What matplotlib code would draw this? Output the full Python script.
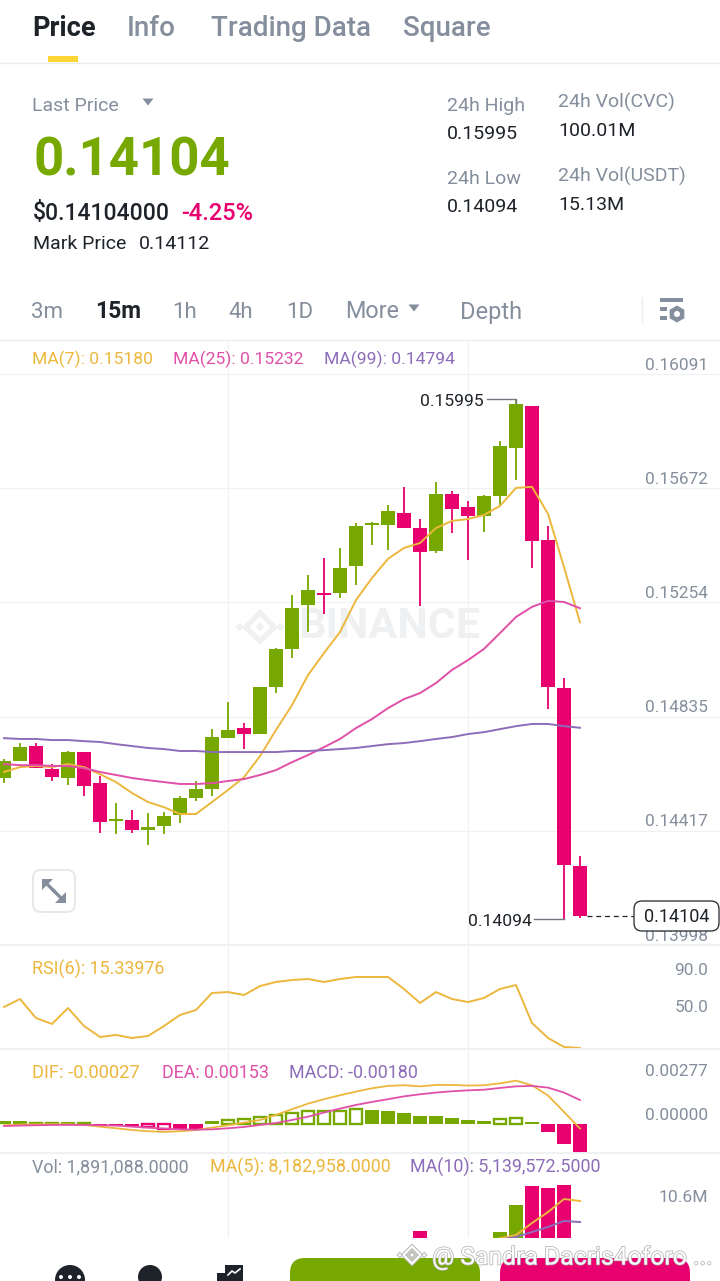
# Imports
import matplotlib
matplotlib.use("Agg")
import matplotlib.pyplot as plt
import matplotlib.patheffects as pe
from matplotlib.patches import Circle, FancyBboxPatch, Polygon, Rectangle, RegularPolygon
from matplotlib.transforms import ScaledTranslation
import numpy as np

W, H = 720, 1281
plt.rcParams["font.family"] = ["Roboto", "DejaVu Sans"]

GREEN = "#76a800"
RED = "#e8006f"
YELLOW = "#ecb73c"
PINK = "#e04fa8"
PURPLE = "#8d6cb9"
GRAY = "#848e9c"
DARK = "#1e2329"
GRID = "#f0f1f3"

# Candles
opens = [0.14610, 0.14672, 0.14727, 0.14643, 0.14610, 0.14705, 0.14591, 0.14452, 0.14456, 0.14419,
         0.14434, 0.14474, 0.14536, 0.14569, 0.14756, 0.14793, 0.14771, 0.14943, 0.15083, 0.15244,
         0.15288, 0.15288, 0.15387, 0.15537, 0.15537, 0.15581, 0.15526, 0.15442, 0.15651, 0.15603,
         0.15570, 0.15644, 0.15820, 0.15974, 0.15482, 0.14940, 0.14287]
highs = [0.14679, 0.14738, 0.14738, 0.14661, 0.14709, 0.14705, 0.14617, 0.14518, 0.14492, 0.14481,
         0.14485, 0.14544, 0.14599, 0.14789, 0.14888, 0.14811, 0.14943, 0.15086, 0.15281, 0.15354,
         0.15416, 0.15453, 0.15545, 0.15548, 0.15611, 0.15677, 0.15559, 0.15695, 0.15662, 0.15625,
         0.15647, 0.15845, 0.15995, 0.15974, 0.15534, 0.14976, 0.14324]
lows = [0.14591, 0.14672, 0.14646, 0.14599, 0.14584, 0.14544, 0.14408, 0.14404, 0.14408, 0.14364,
        0.14404, 0.14445, 0.14525, 0.14544, 0.14756, 0.14716, 0.14771, 0.14921, 0.15050, 0.15145,
        0.15211, 0.15270, 0.15317, 0.15464, 0.15446, 0.15526, 0.15240, 0.15435, 0.15508, 0.15409,
        0.15512, 0.15611, 0.15702, 0.15380, 0.14863, 0.14094, 0.14096]
closes = [0.14672, 0.14723, 0.14646, 0.14613, 0.14705, 0.14580, 0.14448, 0.14459, 0.14419, 0.14430,
          0.14470, 0.14536, 0.14569, 0.14760, 0.14786, 0.14771, 0.14943, 0.15083, 0.15233, 0.15299,
          0.15281, 0.15380, 0.15534, 0.15545, 0.15589, 0.15526, 0.15438, 0.15651, 0.15596, 0.15570,
          0.15644, 0.15827, 0.15981, 0.15479, 0.14943, 0.14291, 0.14104]

ma7 = [0.14632, 0.14650, 0.14654, 0.14650, 0.14661, 0.14650, 0.14624, 0.14595, 0.14555, 0.14522,
       0.14503, 0.14478, 0.14478, 0.14522, 0.14566, 0.14613, 0.14690, 0.14786, 0.14877, 0.14987,
       0.15068, 0.15145, 0.15262, 0.15343, 0.15413, 0.15453, 0.15471, 0.15526, 0.15552, 0.15559,
       0.15574, 0.15607, 0.15673, 0.15677, 0.15578, 0.15383, 0.15180]
ma25 = [0.14661, 0.14657, 0.14657, 0.14654, 0.14654, 0.14646, 0.14632, 0.14621, 0.14610, 0.14602,
        0.14595, 0.14588, 0.14588, 0.14591, 0.14599, 0.14606, 0.14621, 0.14639, 0.14668, 0.14694,
        0.14723, 0.14753, 0.14793, 0.14826, 0.14866, 0.14899, 0.14921, 0.14958, 0.15006, 0.15042,
        0.15083, 0.15141, 0.15200, 0.15237, 0.15259, 0.15255, 0.15232]
ma99 = [0.14756, 0.14753, 0.14753, 0.14749, 0.14749, 0.14745, 0.14742, 0.14734, 0.14727, 0.14720,
        0.14716, 0.14709, 0.14709, 0.14705, 0.14705, 0.14705, 0.14705, 0.14705, 0.14709, 0.14709,
        0.14712, 0.14716, 0.14720, 0.14727, 0.14734, 0.14738, 0.14745, 0.14753, 0.14760, 0.14771,
        0.14778, 0.14789, 0.14800, 0.14808, 0.14808, 0.14800, 0.14794]

price_ticks = [0.16091, 0.15672, 0.15254, 0.14835, 0.14417, 0.13998]

# RSI
rsi6 = [59.7, 68.4, 47.8, 41.4, 58.6, 39.2, 27.3, 29.5, 26.2, 28.4,
        39.2, 51.1, 56.5, 74.9, 75.9, 72.7, 82.4, 86.8, 88.9, 90.0,
        86.8, 90.0, 92.2, 92.2, 92.2, 79.2, 64.1, 75.9, 68.4, 65.1,
        69.5, 79.2, 83.5, 42.4, 26.2, 16.5, 15.34]

# MACD
dif = [-0.00006, -0.00002, 0.00000, 0.00000, 0.00000, -0.00004, -0.00015, -0.00025, -0.00036, -0.00044,
       -0.00048, -0.00044, -0.00036, -0.00021, -0.00006, 0.00011, 0.00027, 0.00059, 0.00095, 0.00130,
       0.00158, 0.00183, 0.00206, 0.00227, 0.00242, 0.00246, 0.00239, 0.00248, 0.00248, 0.00244,
       0.00246, 0.00258, 0.00275, 0.00246, 0.00181, 0.00078, -0.00027]
dea = [-0.00011, -0.00008, -0.00006, -0.00004, -0.00004, -0.00004, -0.00006, -0.00008, -0.00015, -0.00021,
       -0.00027, -0.00032, -0.00034, -0.00032, -0.00025, -0.00017, -0.00004, 0.00008, 0.00027, 0.00048,
       0.00074, 0.00099, 0.00122, 0.00141, 0.00158, 0.00176, 0.00189, 0.00200, 0.00208, 0.00214,
       0.00218, 0.00229, 0.00239, 0.00242, 0.00231, 0.00200, 0.00153]
macd_hist = [0.00019, 0.00019, 0.00008, 0.00008, 0.00015, 0.00008, -0.00002, -0.00006, -0.00010, -0.00017,
             -0.00027, -0.00031, -0.00031, 0.00019, 0.00027, 0.00034, 0.00046, 0.00059, 0.00074, 0.00086,
             0.00082, 0.00086, 0.00094, 0.00090, 0.00086, 0.00074, 0.00055, 0.00050, 0.00042, 0.00029,
             0.00023, 0.00034, 0.00042, 0.00015, -0.00050, -0.00124, -0.00180]
hollow_hist = [2, 3, 5, 9, 10, 14, 15, 16, 17, 18, 19, 20, 21, 22, 31, 32]

# Volume, in millions (the bars under the bottom bar are estimates)
volume = [1.2, 0.9, 1.3, 0.8, 1.1, 1.6, 2.2, 1.0, 0.9, 1.1,
          0.8, 1.2, 0.9, 2.6, 1.3, 0.8, 2.7, 2.1, 2.4, 1.5,
          1.7, 1.4, 2.2, 0.9, 1.0, 1.6, 3.84, 2.6, 1.1, 1.4,
          1.2, 3.70, 7.60, 10.35, 10.06, 10.50, 1.89]
vol_ma5 = [2.80, 3.26, 5.00, 6.59, 8.47, 8.18]
vol_ma10 = [2.60, 2.97, 3.70, 4.42, 5.29, 5.14]

idx = np.arange(len(opens))
idx_vol_ma = idx[-len(vol_ma5):]


def panel(top, bottom, ylim, zorder=1):
    # axes spanning a pixel band of the screenshot, x is the candle index
    ax = fig.add_axes([0, 1 - bottom / H, 1, (bottom - top) / H], zorder=zorder)
    ax.patch.set_visible(False)
    ax.set_xlim(-0.25, 44.75)
    ax.set_ylim(*ylim)
    for s in ax.spines.values():
        s.set_visible(False)
    ax.set_xticks([14, 29])
    ax.tick_params(length=0, labelbottom=False, labelleft=False, labelright=True,
                   labelsize=12.4, labelcolor=GRAY, pad=-8.6)
    ax.grid(True, axis="x", color=GRID, linewidth=0.9)
    ax.set_axisbelow(True)
    return ax


def right_ticks(ax, ticks, labels):
    ax.yaxis.tick_right()
    ax.tick_params(length=0, labelleft=False, labelright=True)
    ax.set_yticks(ticks)
    ax.set_yticklabels(labels)
    # labels sit just above their level, nudged up a pixel
    nudge = ScaledTranslation(0, 1.2 / 100, fig.dpi_scale_trans)
    for t in ax.get_yticklabels():
        t.set_ha("right")
        t.set_va("bottom")
        t.set_transform(t.get_transform() + nudge)


def label(x, y, s, color=DARK, size=12.85, weight="normal", ha="left", ax=None, **kw):
    # roboto sits about 2px high with va=center
    (ax or ui).text(x, y + 2, s, color=color, fontsize=size, fontweight=weight, ha=ha, va="center", **kw)


def triangle(x, y, w=5.5, h=7, color=GRAY):
    ui.add_patch(Polygon([(x - w, y - h / 2), (x + w, y - h / 2), (x, y + h / 2)], closed=True, color=color, lw=0))


def diamond(ax, cx, cy, r, color, zorder=1, edge="none"):
    ax.add_patch(Polygon([(cx - r, cy), (cx, cy - r), (cx + r, cy), (cx, cy + r)], closed=True,
                         facecolor=color, edgecolor=edge, lw=0.7, zorder=zorder))


def binance_logo(ax, cx, cy, r, color, hole="white", zorder=1, edge="none"):
    diamond(ax, cx, cy, r * 0.72, color, zorder, edge)
    diamond(ax, cx, cy, r * 0.42, hole, zorder, edge)
    diamond(ax, cx, cy, r * 0.18, color, zorder, edge)
    diamond(ax, cx - r * 0.82, cy, r * 0.17, color, zorder, edge)
    diamond(ax, cx + r * 0.82, cy, r * 0.17, color, zorder, edge)


fig = plt.figure(figsize=(W / 100, H / 100), dpi=100, facecolor="white")

# background layer for the watermark
bg = fig.add_axes([0, 0, 1, 1], zorder=0)
bg.set_xlim(0, W)
bg.set_ylim(H, 0)
bg.axis("off")
binance_logo(bg, 260, 627, 25, "#eff0f2")
bg.text(298, 627, "BINANCE", color="#eff0f2", fontsize=31, fontweight="bold", ha="left", va="center")

# 1. Price panel, top edge y=340, bottom edge y=945
main = panel(340, 945, (0.13998, 0.16215))
main.grid(True, axis="y", color=GRID, linewidth=0.9)
right_ticks(main, price_ticks, [f"{p:.5f}" for p in price_ticks])
colors = [GREEN if c >= o else RED for o, c in zip(opens, closes)]
main.vlines(idx, lows, highs, colors=colors, linewidth=1.3, zorder=2)
main.bar(idx, np.abs(np.subtract(closes, opens)), bottom=np.minimum(opens, closes),
         width=0.875, color=colors, zorder=3)
main.plot(idx, ma7, color=YELLOW, linewidth=1.4, zorder=4)
main.plot(idx, ma25, color=PINK, linewidth=1.4, zorder=4)
main.plot(idx, ma99, color=PURPLE, linewidth=1.4, zorder=4)

# 2. RSI panel
rsi = panel(945, 1049, (14.3, 126.8))
right_ticks(rsi, [50, 90], ["50.0", "90.0"])
rsi.plot(idx, rsi6, color=YELLOW, linewidth=1.4)

# 3. MACD panel
macd = panel(1049, 1153, (-0.00181, 0.004745))
right_ticks(macd, [0, 0.00277], ["0.00000", "0.00277"])
hist_colors = [GREEN if v >= 0 else RED for v in macd_hist]
solid = [i for i in idx if i not in hollow_hist]
macd.bar(solid, [macd_hist[i] for i in solid], width=0.875,
         color=[hist_colors[i] for i in solid], zorder=2)
macd.bar(hollow_hist, [macd_hist[i] for i in hollow_hist], width=0.78, facecolor="white",
         edgecolor=[hist_colors[i] for i in hollow_hist], linewidth=1.7, zorder=2)
macd.plot(idx, dif, color=YELLOW, linewidth=1.3, zorder=3)
macd.plot(idx, dea, color=PINK, linewidth=1.3, zorder=3)

# 4. Volume panel, cut off by the bottom bar at y=1238
vol = panel(1153, 1238, (2.83, 15.13))
vol.set_yticks([])
vol.bar(idx, volume, width=0.875, color=colors, zorder=2)
vol.plot(idx_vol_ma, vol_ma5, color=YELLOW, linewidth=1.4, zorder=3)
vol.plot(idx_vol_ma, vol_ma10, color=PURPLE, linewidth=1.4, zorder=3)
vol.annotate("10.6M", xy=(1, 10.6), xycoords=vol.get_yaxis_transform(), xytext=(-8.6, -9.4),
             textcoords="offset points", ha="right", va="center", color=GRAY, fontsize=12.6)

# everything else is screen furniture, placed in pixels
ui = fig.add_axes([0, 0, 1, 1], zorder=5)
ui.patch.set_visible(False)
ui.set_xlim(0, W)
ui.set_ylim(H, 0)
ui.axis("off")

# tabs
label(32, 27, "Price", size=19.5, weight="bold")
label(127, 27, "Info", GRAY, 20, "medium")
label(211, 27, "Trading Data", GRAY, 20, "medium")
label(403, 27, "Square", GRAY, 20, "medium")
ui.add_patch(Rectangle((48, 56), 30, 6, color="#fcd535", lw=0))
ui.hlines(63, 0, W, color="#eaecef", linewidth=1)

# ticker header
label(32, 104, "Last Price", GRAY, 14)
triangle(148, 102)
label(33, 159, "0.14104", GREEN, 38, "bold")
label(33, 211, "$0.14104000", DARK, 16.5, "medium")
label(181, 211, "-4.25%", RED, 17, "medium")
label(33, 242, "Mark Price", DARK, 14)
label(139, 242, "0.14112", DARK, 14)
label(447, 104, "24h High", GRAY, 14)
label(447, 132, "0.15995", DARK, 14)
label(447, 177, "24h Low", GRAY, 14)
label(447, 205, "0.14094", DARK, 14)
label(558, 100, "24h Vol(CVC)", GRAY, 14)
label(558, 129, "100.01M", DARK, 14)
label(558, 174, "24h Vol(USDT)", GRAY, 14)
label(558, 203, "15.13M", DARK, 14)

# interval row
label(31, 311, "3m", GRAY, 16)
label(95, 310, "15m", DARK, 16.5, "bold")
label(172, 311, "1h", GRAY, 16)
label(228, 311, "4h", GRAY, 16)
label(286, 311, "1D", GRAY, 16)
label(345, 310, "More", GRAY, 16.8)
triangle(414, 308)
label(460, 310, "Depth", GRAY, 17)
ui.vlines(642, 297, 322, color="#eaecef", linewidth=1)
ui.add_patch(Rectangle((660, 298), 23, 4, color=GRAY, lw=0))
ui.add_patch(Rectangle((660, 307), 7, 3.5, color=GRAY, lw=0))
ui.add_patch(Rectangle((660, 316), 7, 3.5, color=GRAY, lw=0))
ui.add_patch(RegularPolygon((677, 314), 6, radius=8.5, color=GRAY, lw=0))
ui.add_patch(Circle((677, 314), 3, color="white", lw=0))
ui.hlines(340, 0, W, color="#eaecef", linewidth=1)

# indicator legends
label(32, 357, "MA(7): 0.15180", YELLOW, 12.6)
label(173, 357, "MA(25): 0.15232", PINK, 12.6)
label(324, 357, "MA(99): 0.14794", PURPLE, 12.6)
label(32, 967, "RSI(6): 15.33976", YELLOW)
label(32, 1071, "DIF: -0.00027", YELLOW, 13.2)
label(162, 1071, "DEA: 0.00153", PINK)
label(289, 1071, "MACD: -0.00180", PURPLE)
label(32, 1165, "Vol: 1,891,088.0000", GRAY)
label(210, 1165, "MA(5): 8,182,958.0000", YELLOW)
label(410, 1165, "MA(10): 5,139,572.5000", PURPLE)

# panel separators
for y in [945, 1049, 1153]:
    ui.hlines(y, 0, W, color=GRID, linewidth=1.4)

# high / low markers and last price tag
label(484, 400, "0.15995", DARK, 12.6, ha="right")
ui.plot([487, 516, 516], [399, 399, 403], color="#6f7680", linewidth=1)
label(532, 919, "0.14094", DARK, 12.6, ha="right")
ui.plot([534, 564], [919, 919], color="#6f7680", linewidth=1)
ui.plot([587, 633], [916, 916], color=DARK, linewidth=0.9, linestyle=(0, (4, 3)))
ui.add_patch(FancyBboxPatch((634, 901), 85, 30, boxstyle="round,pad=0,rounding_size=8",
                            facecolor="white", edgecolor=DARK, linewidth=0.9))
label(677, 915, "0.14104", DARK, 13, ha="center")

# expand button
ui.add_patch(FancyBboxPatch((33, 870), 42, 42, boxstyle="round,pad=0,rounding_size=8",
                            facecolor="white", edgecolor="#e6e8ea", linewidth=1.4))
ui.add_patch(Polygon([(42, 879), (53, 879), (42, 890)], closed=True, color=GRAY, lw=0))
ui.add_patch(Polygon([(66, 903), (66, 892), (55, 903)], closed=True, color=GRAY, lw=0))
ui.plot([45, 54], [882, 891], color=GRAY, linewidth=2.4)
ui.plot([54, 63], [891, 900], color=GRAY, linewidth=2.4)

# bottom bar
ui.add_patch(Rectangle((0, 1238), W, 43, color="white", lw=0, zorder=3))
ui.add_patch(Circle((70, 1280), 15, color=DARK, lw=0, zorder=4))
for x in [61, 70, 79]:
    ui.add_patch(Circle((x, 1277), 2, color="white", lw=0, zorder=5))
ui.add_patch(Circle((150, 1277), 12, color=DARK, lw=0, zorder=4))
ui.add_patch(Rectangle((225, 1265), 18, 16, color=DARK, lw=0, zorder=4))
ui.add_patch(Rectangle((217, 1273), 9, 8, color=DARK, lw=0, zorder=4))
ui.plot([228, 232, 235, 240], [1275, 1271, 1273, 1269], color="white", linewidth=1.2, zorder=5)
ui.add_patch(FancyBboxPatch((290, 1258), 190, 60, boxstyle="round,pad=0,rounding_size=15",
                            facecolor=GREEN, edgecolor="none", zorder=4, clip_on=True))
ui.add_patch(FancyBboxPatch((500, 1258), 190, 60, boxstyle="round,pad=0,rounding_size=15",
                            facecolor=RED, edgecolor="none", zorder=4, clip_on=True))

# screenshot watermark
shade = [pe.withStroke(linewidth=1.1, foreground="#b4b4b4")]
wm = ui.text(432, 1257, "@ Sandra Dacris4oforo ...", color="white", fontsize=17.8, ha="left", va="center", zorder=6)
wm.set_path_effects(shade)
binance_logo(ui, 412, 1255, 15, "white", hole="#c9cdbf", zorder=6, edge="#b4b4b4")

plt.savefig("out.png", dpi=100)
plt.close()
